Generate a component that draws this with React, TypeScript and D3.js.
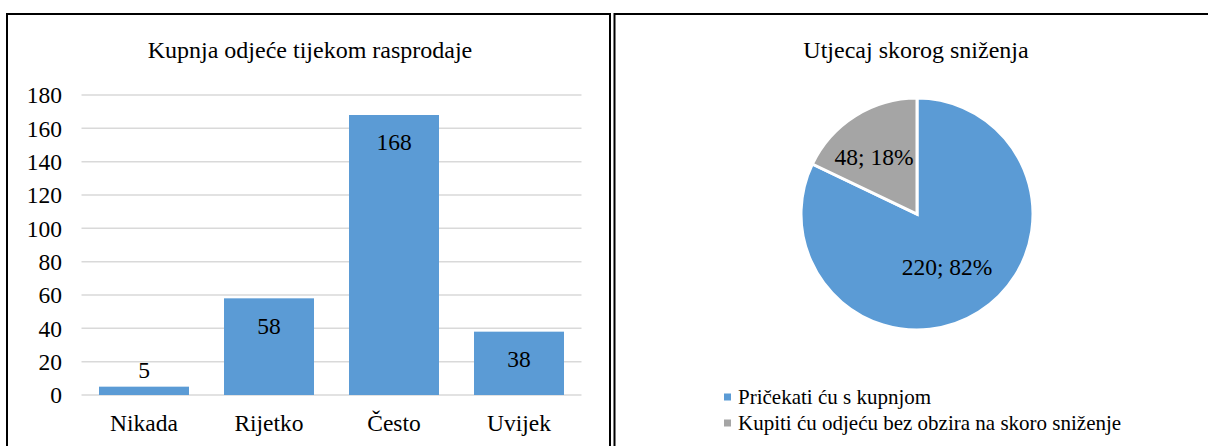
import React from "react";
import * as d3 from "d3";

const barCategories = ["Nikada", "Rijetko", "Često", "Uvijek"];
const barValues = [5, 58, 168, 38];
const yTicks = [0, 20, 40, 60, 80, 100, 120, 140, 160, 180];

const pieLabels = ["Pričekati ću s kupnjom", "Kupiti ću odjeću bez obzira na skoro sniženje"];
const pieValues = [220, 48];
const piePercents = ["82%", "18%"];

const barTitle = "Kupnja odjeće tijekom rasprodaje";
const pieTitle = "Utjecaj skorog sniženja";

const BLUE = "#5B9BD5";
const GRAY = "#A5A5A5";
const FONT = "'Liberation Serif', 'Times New Roman', serif";

export default function App() {
  const x = d3.scaleBand<string>().domain(barCategories).range([81.5, 581.5]).paddingInner(0.28).paddingOuter(0.14);
  const y = d3.scaleLinear().domain([0, 180]).range([395, 95]);

  const pieGen = d3.pie<number>().sort(null).value((d) => d);
  const arcs = pieGen(pieValues);
  const r = 116;
  const arcGen = d3.arc<d3.PieArcDatum<number>>().innerRadius(0).outerRadius(r);
  const cx = 917;
  const cy = 214;
  const labelPos: [number, number][] = [
    [30, 53],
    [-43, -57],
  ];

  return (
    <svg width={1208} height={446} style={{ position: "absolute", left: 0, top: 0, fontFamily: FONT }}>
      <rect x={0} y={0} width={1208} height={446} fill="#fff" />
      {/* panels */}
      <rect x={7} y={14} width={603} height={460} fill="#fff" stroke="#000" strokeWidth={2} />
      <rect x={614.5} y={14} width={620} height={460} fill="#fff" stroke="#000" strokeWidth={2} />

      {/* bar chart */}
      <text x={310} y={50} dy="0.35em" textAnchor="middle" fontSize={24}>{barTitle}</text>
      {yTicks.map((t) => (
        <g key={t}>
          <line x1={81.5} x2={581.5} y1={y(t)} y2={y(t)} stroke="#D9D9D9" strokeWidth={1.5} />
          <text x={62} y={y(t)} dy="0.35em" textAnchor="end" fontSize={23.5}>{t}</text>
        </g>
      ))}
      {barCategories.map((c, i) => {
        const v = barValues[i];
        const bx = x(c) as number;
        const bw = x.bandwidth();
        const top = y(v);
        const inside = y(0) - top > 40;
        return (
          <g key={c}>
            <rect x={bx} y={top} width={bw} height={y(0) - top} fill={BLUE} />
            <text x={bx + bw / 2} y={inside ? top + 27 : top - 17} dy="0.35em" textAnchor="middle" fontSize={23.5}>{v}</text>
            <text x={bx + bw / 2} y={423} dy="0.35em" textAnchor="middle" fontSize={23.5}>{c}</text>
          </g>
        );
      })}

      {/* pie chart */}
      <text x={916} y={50} dy="0.35em" textAnchor="middle" fontSize={24}>{pieTitle}</text>
      <g transform={`translate(${cx},${cy})`}>
        {arcs.map((a, i) => (
          <path key={i} d={arcGen(a) as string} fill={i === 0 ? BLUE : GRAY} stroke="#fff" strokeWidth={3} strokeLinejoin="miter" />
        ))}
        {arcs.map((a, i) => (
          <text key={"l" + i} x={labelPos[i][0]} y={labelPos[i][1]} dy="0.35em" textAnchor="middle" fontSize={23.5}>
            {`${pieValues[i]}; ${piePercents[i]}`}
          </text>
        ))}
      </g>
      {pieLabels.map((l, i) => (
        <g key={l}>
          <rect x={724} y={397 + i * 26 - 3.5} width={7} height={7} fill={i === 0 ? BLUE : GRAY} />
          <text x={738} y={397 + i * 26} dy="0.35em" fontSize={21}>{l}</text>
        </g>
      ))}
    </svg>
  );
}
